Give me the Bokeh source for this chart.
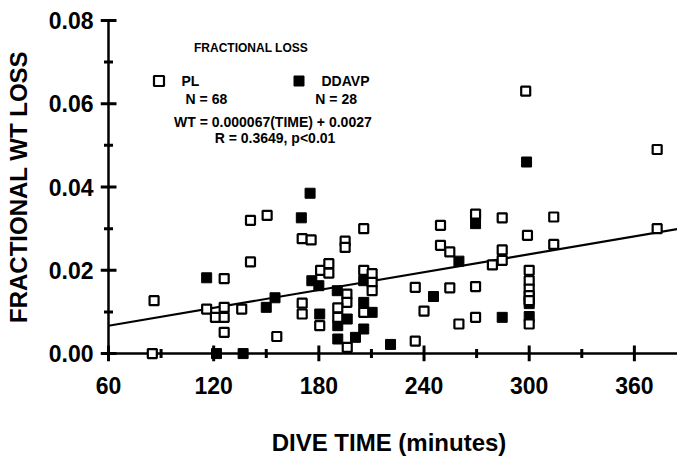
from bokeh.plotting import figure
from bokeh.models import Range1d, FixedTicker, NumeralTickFormatter, Label
from bokeh.embed import file_html
from bokeh.resources import INLINE

# PL group (hollow squares): dive time (minutes), fractional weight loss
pl_time = [85, 86, 116, 126, 121, 126, 126, 126, 136, 141, 141, 150.5, 156,
           170.5, 175.6, 170.5, 170.5, 180.5, 181, 185.7, 185.7, 195, 195, 196,
           196, 190.8, 190.8, 196.2, 205.6, 205.6, 210.4, 210.4, 210.4, 205.6,
           235, 240, 235, 249.4, 249.4, 254.7, 254.7, 259.9, 269.4, 269.4, 269.4,
           284.6, 284.6, 284.6, 279, 299, 300, 300, 300, 300, 300, 300, 298,
           314, 314, 373, 373]
pl_loss = [0.000, 0.0127, 0.0107, 0.0111, 0.0087, 0.0087, 0.0051, 0.0180, 0.0107,
           0.0320, 0.0220, 0.0332, 0.0041, 0.0276, 0.0273, 0.0121, 0.0095, 0.0067,
           0.0200, 0.0216, 0.0193, 0.0270, 0.0255, 0.0143, 0.0123, 0.0110, 0.0087,
           0.0015, 0.0300, 0.0200, 0.0192, 0.0171, 0.0151, 0.0099, 0.0159, 0.0102,
           0.0030, 0.0308, 0.0260, 0.0244, 0.0158, 0.0071, 0.0335, 0.0161, 0.0087,
           0.0326, 0.0249, 0.0224, 0.0213, 0.0284, 0.0200, 0.0175, 0.0155, 0.0139,
           0.0127, 0.0071, 0.0630, 0.0328, 0.0262, 0.0490, 0.0300]

# DDAVP group (filled squares)
ddavp_time = [121.6, 136.8, 116, 150, 155, 170, 175, 176, 180, 180.5, 190.5,
              196.2, 190.8, 190.8, 200.9, 205.6, 205.6, 205.6, 210.4, 220.9,
              245.4, 259.9, 269.4, 284.6, 300, 300, 300, 298.5]
ddavp_loss = [0.000, 0.000, 0.0182, 0.0111, 0.0134, 0.0326, 0.0385, 0.0175,
              0.0163, 0.0095, 0.0151, 0.0083, 0.0067, 0.0035, 0.0039, 0.0059,
              0.0175, 0.0123, 0.0099, 0.0022, 0.0137, 0.0222, 0.0312, 0.0087,
              0.0131, 0.0120, 0.0089, 0.0460]

# regression line as drawn
fit_slope = 0.0000715
fit_intercept = 0.0024

x_major = [60, 120, 180, 240, 300, 360]
x_minor = [90, 150, 210, 270, 330]
y_major = [0.00, 0.02, 0.04, 0.06, 0.08]
y_minor = [0.01, 0.03, 0.05, 0.07]

FONT = "Liberation Sans"
X_END = 384.6

# frame reaches a few pixels past the axes so that crossing ticks stay visible
p = figure(width=677, height=461, output_backend="svg", toolbar_location=None,
           x_range=Range1d(55.44, X_END), y_range=Range1d(-0.0019, 0.0819),
           min_border_left=100, min_border_right=0, min_border_top=12,
           min_border_bottom=100)
p.outline_line_color = None
p.xgrid.visible = False
p.ygrid.visible = False
p.background_fill_color = "white"
p.border_fill_color = "white"

p.xaxis.ticker = FixedTicker(ticks=x_major, minor_ticks=[])
p.yaxis.ticker = FixedTicker(ticks=y_major, minor_ticks=[])
p.yaxis.formatter = NumeralTickFormatter(format="0.00")

p.axis.axis_line_color = None
p.axis.major_tick_line_color = None
p.axis.minor_tick_line_color = None
p.axis.major_tick_in = 0
p.axis.major_tick_out = 0
p.axis.minor_tick_in = 0
p.axis.minor_tick_out = 0
p.axis.major_label_text_font = FONT
p.axis.major_label_text_font_style = "bold"
p.axis.major_label_text_font_size = "23px"
p.axis.major_label_text_color = "black"
p.axis.axis_label_text_font = FONT
p.axis.axis_label_text_font_style = "bold"
p.axis.axis_label_text_font_size = "24px"
p.axis.axis_label_text_color = "black"

p.xaxis.major_label_standoff = 15
p.yaxis.major_label_standoff = 7
p.xaxis.axis_label = "DIVE TIME (minutes)"
p.yaxis.axis_label = "FRACTIONAL WT LOSS"
p.xaxis.axis_label_standoff = 32
p.yaxis.axis_label_standoff = 14

# axis lines at the data origin (60 min, 0.00)
p.segment(x0=[x_major[0], x_major[0]], y0=[y_major[0], y_major[0]],
          x1=[X_END, x_major[0]], y1=[y_major[0], y_major[-1]],
          line_color="black", line_width=2.5)

# crossing tick marks, sized in screen pixels
p.rect(x=x_major, y=[y_major[0]] * len(x_major), width=3, height=16,
       width_units="screen", height_units="screen",
       fill_color="black", line_color=None)
p.rect(x=x_minor, y=[y_major[0]] * len(x_minor), width=3, height=9,
       width_units="screen", height_units="screen",
       fill_color="black", line_color=None)
p.rect(x=[x_major[0]] * len(y_major), y=y_major, width=16, height=3,
       width_units="screen", height_units="screen",
       fill_color="black", line_color=None)
p.rect(x=[x_major[0]] * len(y_minor), y=y_minor, width=9, height=3,
       width_units="screen", height_units="screen",
       fill_color="black", line_color=None)

# regression line across the axis span
fit_x = [x_major[0], X_END]
fit_y = [fit_intercept + fit_slope * t for t in fit_x]
p.line(fit_x, fit_y, line_color="black", line_width=2.2)

p.scatter(ddavp_time, ddavp_loss, marker="square", size=10,
          fill_color="black", line_color="black", line_width=1,
          legend_label="DDAVP")
p.scatter(pl_time, pl_loss, marker="square", size=9,
          fill_color="white", line_color="black", line_width=2.2,
          legend_label="PL")

lg = p.legend[0]
lg.items = [lg.items[1], lg.items[0]]
lg.location = (45.5, 268)
lg.orientation = "horizontal"
lg.background_fill_alpha = 0
lg.border_line_color = None
lg.padding = 0
lg.margin = 0
lg.spacing = 84
lg.glyph_width = 25
lg.glyph_height = 25
lg.label_standoff = 11
lg.label_text_font = FONT
lg.label_text_font_style = "bold"
lg.label_text_font_size = "14px"
lg.label_text_color = "black"
lg.label_height = 25

def lab(x, y, text, align="left", size="14px"):
    p.add_layout(Label(x=x, y=y, text=text, text_font=FONT, text_font_style="bold",
                       text_font_size=size, text_align=align,
                       text_baseline="middle", text_color="black"))

lab(141.3, 0.0733, "FRACTIONAL LOSS", "center", "12px")
lab(104, 0.0611, "N = 68")
lab(178, 0.0611, "N = 28")
lab(153.8, 0.0555, "WT = 0.000067(TIME) + 0.0027", "center")
lab(155, 0.0517, "R = 0.3649, p<0.01", "center")

open("out.html", "w").write(file_html(p, INLINE))
